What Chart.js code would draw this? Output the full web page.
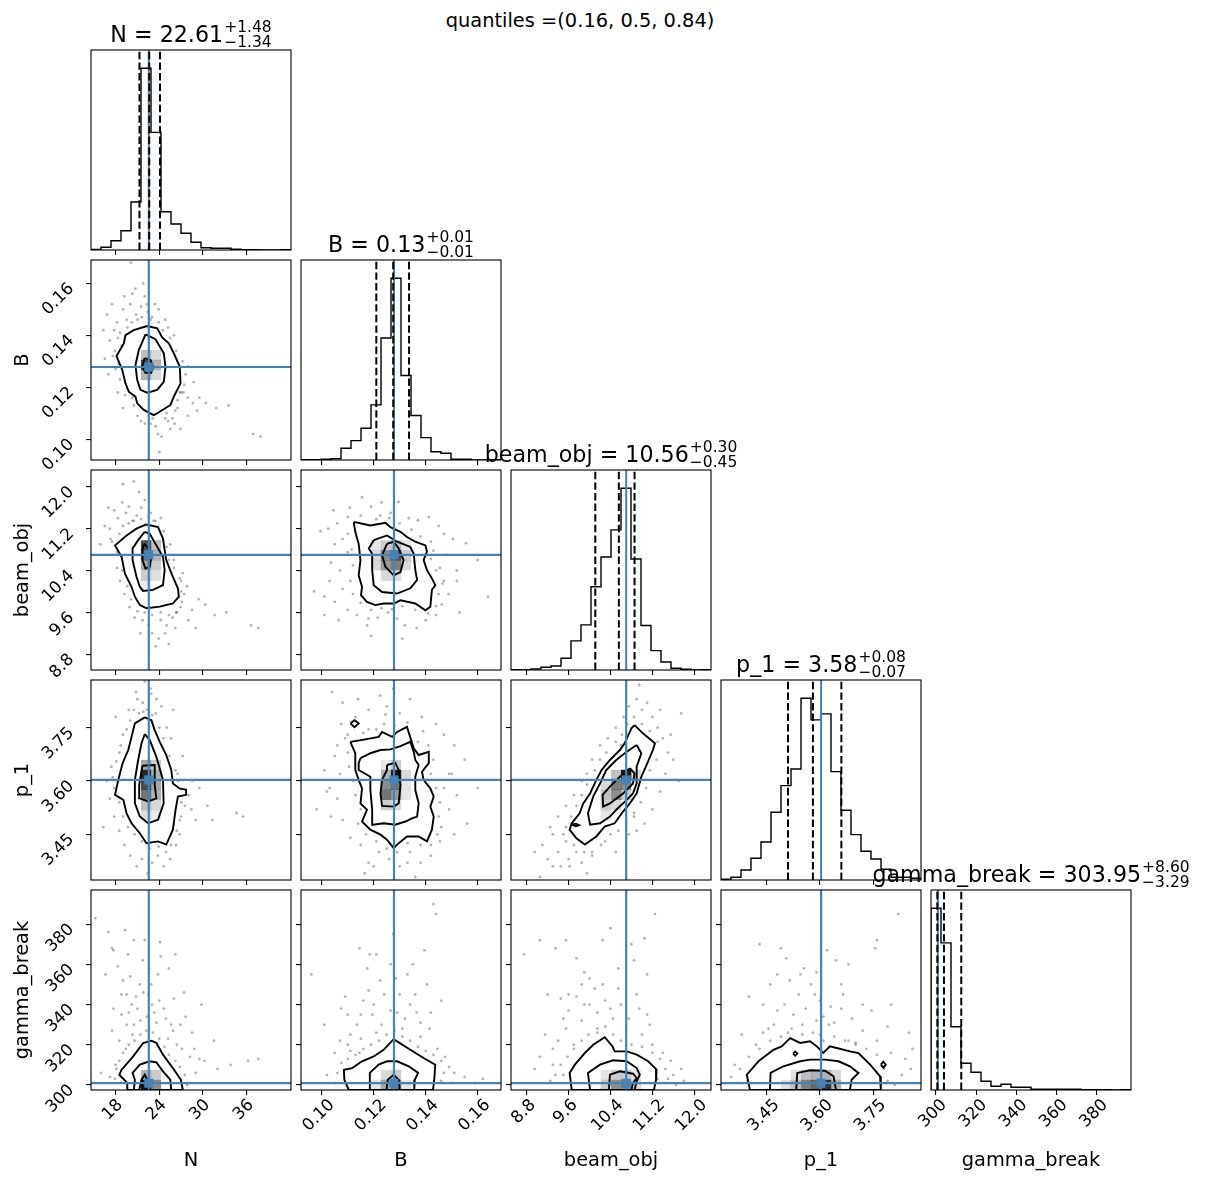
<!DOCTYPE html>
<html>
<head>
<meta charset="utf-8">
<title>corner plot</title>
<script src="https://cdn.jsdelivr.net/npm/chart.js@4.4.1/dist/chart.umd.min.js"></script>
<style>
  html, body { margin: 0; padding: 0; background: #fff; }
  body { position: relative; width: 1207px; height: 1180px; overflow: hidden; }
  canvas { position: absolute; }
  #sup { position: absolute; left: 280px; width: 600px; top: 11px; text-align: center;
         font: 19.4px "DejaVu Sans", sans-serif; line-height: 1; color: #000; }
</style>
</head>
<body>
<div id="sup">quantiles =(0.16, 0.5, 0.84)</div>
<script>
// parameters
var labels = ['N', 'B', 'beam_obj', 'p_1', 'gamma_break'];
var axisMin = [14.61, 0.0920, 8.50, 3.3215, 297.5];
var axisMax = [42.09, 0.1690, 12.32, 3.884, 397.0];

var ticksN = [18, 24, 30, 36];
var ticksB = [0.10, 0.12, 0.14, 0.16];
var ticksBeam = [8.8, 9.6, 10.4, 11.2, 12.0];
var ticksP1 = [3.45, 3.60, 3.75];
var ticksGamma = [300, 320, 340, 360, 380];
var tickSets = [ticksN, ticksB, ticksBeam, ticksP1, ticksGamma];
var tickDecimals = [0, 2, 1, 2, 0];

var truths = [22.55, 0.1278, 10.70, 3.603, 300.9];
var q16 = [21.27, 0.1210, 10.11, 3.51, 300.66];
var q50 = [22.61, 0.1275, 10.56, 3.58, 303.95];
var q84 = [24.09, 0.1336, 10.86, 3.66, 312.55];
var titleValue = ['22.61', '0.13', '10.56', '3.58', '303.95'];
var titleUp = ['1.48', '0.01', '0.30', '0.08', '8.60'];
var titleDown = ['1.34', '0.01', '0.45', '0.07', '3.29'];

// 1D histograms, 20 bins over each axis range
var histN = [0.5, 2.7, 9.3, 19.3, 48, 182, 117.7, 38.3, 26, 16.7, 7.7, 2.3, 1.7, 1.7, 0.7, 0.3, 0.3, 0, 0, 0.3];
var histB = [0.3, 0.3, 0.7, 1.3, 11.7, 19.3, 31.7, 55, 121.7, 181.3, 84.3, 44.3, 22.3, 8.3, 6.7, 0.7, 0.7, 0, 0, 0.3];
var histBeam = [0.3, 0, 1, 2.7, 4, 11.7, 29, 45, 83, 112.7, 139.7, 181.3, 110.7, 44.3, 19.3, 8, 1.7, 0.7, 0, 0.3];
var histP1 = [0.7, 2.7, 10, 21.7, 38, 67.7, 94.3, 111, 181.7, 160, 166, 108.3, 69.7, 45.3, 28.7, 21, 10.7, 2.7, 2.7, 1.7];
var histGamma = [181.3, 146.7, 63, 26.7, 17.7, 8.7, 3.7, 5.7, 2.7, 2.7, 0.7, 0.7, 0.7, 0.7, 0.7, 0.3, 0.3, 0.3, 0, 0.3];
var hists = [histN, histB, histBeam, histP1, histGamma];

// 2D panels: samples outside the contours, contour rings (outer first), density cells [x, y, darkness]
var pts_N_B = [[16.8,0.148],[17.5,0.152],[18.2,0.145],[18.6,0.141],[19.0,0.150],[19.5,0.146],[20.0,0.152],[20.3,0.156],[20.8,0.148],[21.5,0.151],[22.0,0.155],[22.4,0.149],[23.0,0.147],[23.4,0.152],[17.2,0.138],[17.9,0.134],[18.4,0.129],[18.8,0.136],[16.3,0.142],[20.1,0.168],[21.8,0.160],[19.8,0.119],[20.5,0.113],[21.0,0.109],[22.0,0.106],[23.5,0.105],[24.3,0.101],[25.0,0.110],[25.8,0.108],[26.5,0.112],[27.0,0.118],[27.4,0.121],[26.8,0.125],[27.9,0.116],[28.6,0.114],[29.5,0.116],[30.4,0.114],[31.8,0.112],[33.5,0.113],[28.0,0.128],[26.0,0.140],[25.2,0.143],[24.8,0.146],[36.9,0.102],[37.9,0.101],[24.0,0.095],[26.1,0.106],[23.1,0.108],[25.5,0.104],[26.8,0.118],[27.9,0.109],[25.2,0.107],[17.0,0.125],[16.5,0.131],[19.0,0.112],[18.3,0.118],
  [19.6,0.143],[20.2,0.145],[21.0,0.146],[21.6,0.147],[22.8,0.146],[23.9,0.145],[24.5,0.142],[25.5,0.139],[26.3,0.134],[27.2,0.130],[27.6,0.125],[27.3,0.118],[26.5,0.115],[26.2,0.111],[24.8,0.108],[24.2,0.111],[22.8,0.106],[21.5,0.107],[20.3,0.116],[19.3,0.117],[18.6,0.123],[18.0,0.127],[17.6,0.132],[18.3,0.139],[17.8,0.142],[19.2,0.155],[20.7,0.158],[22.3,0.152],[23.9,0.150],[28.7,0.122],[29.2,0.111],[26.9,0.104],[23.8,0.102]];
var cont_N_B = [
  [[22.33,0.1436],[23.71,0.1427],[24.39,0.1392],[25.30,0.1369],[25.99,0.1331],[26.81,0.1279],[26.91,0.1215],[25.99,0.1164],[25.53,0.1132],[23.71,0.1100],[23.24,0.1093],[21.86,0.1113],[20.96,0.1138],[20.72,0.1164],[19.80,0.1183],[19.35,0.1215],[18.90,0.1267],[18.11,0.1320],[19.12,0.1369],[19.35,0.1401],[20.49,0.1420]],
  [[22.10,0.1404],[23.47,0.1385],[24.61,0.1331],[24.85,0.1279],[24.61,0.1221],[23.71,0.1190],[22.33,0.1179],[21.41,0.1190],[20.96,0.1228],[20.72,0.1286],[21.18,0.1343]],
  [[21.96,0.1312],[22.79,0.1305],[23.16,0.1279],[22.88,0.1256],[22.10,0.1256],[21.64,0.1279]]
];
var cells_N_B = [[22.17,0.1324,0.25],[23.54,0.1324,0.15],[22.17,0.1286,0.7],[23.54,0.1286,0.3],[22.17,0.1247,0.3],[23.54,0.1247,0.15]];

var pts_N_beam = [[16.5,11.25],[17.0,11.6],[17.8,11.55],[18.3,11.4],[18.9,11.7],[19.4,11.5],[19.8,11.62],[20.3,11.35],[20.9,11.45],[21.5,11.6],[21.2,11.9],[22.8,11.5],[23.2,11.35],[17.3,11.0],[17.6,10.7],[18.2,10.45],[18.6,10.2],[19.2,9.95],[19.9,9.7],[20.6,9.5],[21.7,9.45],[22.5,9.35],[23.0,9.2],[23.5,8.95],[24.2,9.45],[24.8,9.2],[25.3,9.0],[25.8,9.5],[26.3,9.6],[26.9,9.7],[27.4,9.95],[27.8,10.1],[27.2,10.35],[28.5,9.65],[29.4,9.85],[30.3,9.75],[31.6,9.55],[33.2,9.6],[26.0,10.6],[25.5,10.9],[24.2,11.4],[36.6,9.35],[37.6,9.3],[19.0,12.05],[20.5,12.1],[22.0,11.75],[27.0,10.2],[15.9,10.9],
  [18.5,11.1],[19.0,11.25],[19.8,11.3],[20.5,11.35],[21.5,11.38],[22.5,11.42],[23.5,11.35],[24.6,11.15],[25.0,10.85],[25.3,10.6],[26.0,10.45],[26.8,10.25],[27.0,10.0],[27.1,9.8],[26.4,9.6],[25.3,9.55],[24.2,9.6],[23.0,9.55],[22.0,9.6],[21.0,9.62],[20.1,9.85],[19.6,10.1],[18.9,10.4],[18.2,10.75],[17.5,10.95],[17.2,11.2],[28.0,9.45],[29.0,9.3],[26.2,9.3],[25.0,9.35],[23.9,9.1],[21.4,9.2]];
var cont_N_beam = [
  [[22.23,11.28],[23.82,11.23],[24.50,11.01],[24.73,10.79],[24.95,10.60],[25.86,10.28],[26.55,10.06],[26.68,9.90],[25.86,9.77],[24.05,9.71],[22.23,9.68],[21.32,9.74],[20.64,9.90],[20.18,10.09],[19.27,10.34],[18.82,10.66],[17.91,10.88],[19.50,11.07],[20.86,11.20]],
  [[22.0,11.14],[22.68,11.10],[23.59,10.88],[24.50,10.66],[24.73,10.41],[24.50,10.12],[23.14,10.03],[21.77,10.01],[21.32,10.09],[20.86,10.28],[20.32,10.60],[20.32,10.82],[21.09,10.98]],
  [[21.86,10.91],[22.45,10.84],[22.91,10.66],[22.68,10.47],[22.09,10.44],[21.68,10.60],[21.68,10.79]]
];
var cells_N_beam = [[22.17,10.88,0.7],[22.17,10.69,0.6],[22.17,10.50,0.35],[23.54,10.88,0.25],[23.54,10.69,0.3],[23.54,10.50,0.2],[22.17,10.30,0.2],[23.54,10.30,0.12],[22.17,10.11,0.08]];

var pts_N_p1 = [[20.8,3.85],[21.7,3.82],[22.3,3.80],[22.8,3.86],[23.5,3.79],[24.3,3.81],[25.0,3.75],[25.6,3.72],[24.7,3.68],[19.8,3.80],[19.0,3.73],[18.5,3.68],[17.4,3.64],[16.8,3.6],[17.2,3.55],[17.8,3.50],[18.5,3.46],[19.2,3.42],[20.0,3.39],[20.9,3.36],[21.6,3.38],[22.4,3.34],[23.0,3.37],[23.8,3.39],[24.6,3.36],[25.5,3.38],[26.3,3.42],[26.8,3.45],[27.0,3.50],[27.5,3.53],[28.4,3.52],[29.0,3.49],[30.6,3.53],[31.3,3.49],[26.5,3.62],[27.2,3.67],[28.5,3.60],[25.9,3.80],[22.0,3.88],[16.3,3.47],[35.5,3.50],[34.6,3.51],[18.0,3.78],
  [21.2,3.79],[21.8,3.795],[23.0,3.785],[24.0,3.75],[24.6,3.72],[25.4,3.67],[26.2,3.63],[26.6,3.60],[27.0,3.54],[26.8,3.49],[26.4,3.46],[25.6,3.42],[24.9,3.40],[23.9,3.415],[22.7,3.41],[21.6,3.43],[20.6,3.45],[19.7,3.47],[19.0,3.50],[18.5,3.54],[17.8,3.58],[17.6,3.61],[18.1,3.655],[18.7,3.70],[19.5,3.745],[20.0,3.77],[20.5,3.80],[21.0,3.83],[23.6,3.83],[22.9,3.845],[19.4,3.60],[28.0,3.56],[29.5,3.58]];
var cont_N_p1 = [
  [[22.0,3.779],[22.91,3.771],[23.36,3.743],[24.05,3.710],[24.95,3.673],[25.64,3.631],[25.86,3.593],[26.77,3.579],[27.68,3.575],[27.68,3.561],[26.55,3.556],[26.23,3.519],[25.86,3.463],[24.95,3.421],[23.82,3.430],[22.23,3.425],[21.32,3.453],[20.18,3.481],[19.50,3.509],[19.05,3.547],[17.91,3.561],[18.36,3.603],[18.95,3.650],[19.73,3.687],[20.18,3.724],[20.64,3.762]],
  [[22.0,3.732],[22.68,3.715],[23.59,3.668],[24.50,3.603],[24.59,3.537],[23.82,3.491],[22.45,3.481],[21.32,3.500],[20.64,3.537],[20.64,3.603],[21.09,3.659],[21.55,3.706]],
  [[21.68,3.643],[23.36,3.645],[23.36,3.589],[23.59,3.551],[22.45,3.542],[21.32,3.551],[21.23,3.589]]
];
var cells_N_p1 = [[22.17,3.645,0.35],[22.17,3.617,0.85],[22.17,3.589,0.7],[22.17,3.561,0.55],[22.17,3.532,0.25],[22.17,3.504,0.12],[23.54,3.645,0.2],[23.54,3.617,0.3],[23.54,3.589,0.35],[23.54,3.561,0.3],[23.54,3.532,0.15],[23.54,3.504,0.08]];

var pts_N_gamma = [[15.2,383],[17.0,376],[17.5,368],[17.7,367],[16.6,355],[19.3,377],[20.5,372],[22.0,372],[24.1,371],[24.2,364],[26.2,365],[18.3,359],[19.0,352],[20.0,354],[21.3,350],[22.6,358],[23.8,355],[25.3,358],[19.5,345],[20.8,344],[21.8,346],[23.0,340],[24.0,342],[26.0,343],[27.4,346],[17.7,338],[18.8,335],[19.8,336],[20.5,330],[21.4,332],[22.3,334],[23.6,331],[24.9,333],[25.6,330],[27.6,334],[28.5,326],[17.5,327],[18.5,322],[19.4,318],[20.3,325],[25.2,323],[26.4,320],[27.1,318],[29.8,340],[31.5,322],[30.2,312],[32.0,308],[33.8,310],[37.6,313],[36.2,312],[28.2,314],[18.1,308],[17.2,304],[27.9,301],[29.0,306],[16.0,306],
  [18.5,312],[19.0,316],[19.8,320],[20.6,322],[21.4,325],[22.2,327],[23.1,326],[24.0,323],[24.7,319],[25.3,315],[26.2,312],[26.8,309],[27.5,305],[27.8,300],[17.9,303],[18.0,310],[19.5,330],[21.0,338],[22.5,345],[23.3,336],[20.2,340],[22.9,350],[21.7,362],[19.7,365],[18.8,345],[24.6,338],[25.9,327],[26.9,330],[28.8,318],[29.5,313]];
var cont_N_gamma = [
  [[19.59,297.5],[19.59,301.0],[18.5,305.1],[18.82,307.6],[20.41,314.2],[21.77,320.9],[22.91,322.0],[23.59,320.9],[24.50,315.1],[25.86,308.4],[26.95,302.6],[27.23,297.5]],
  [[20.5,297.5],[20.64,302.6],[20.32,306.0],[21.32,310.1],[22.68,311.8],[23.59,311.3],[24.50,306.8],[25.5,302.6],[25.64,297.5]],
  [[21.23,297.5],[21.55,302.6],[22.0,305.1],[22.45,301.8],[22.59,297.5]]
];
var cells_N_gamma = [[22.17,300.0,0.95],[23.54,300.0,0.45],[22.17,305.0,0.3],[23.54,305.0,0.2]];

var pts_B_beam = [[0.1045,11.55],[0.1108,11.60],[0.1155,11.80],[0.1190,11.62],[0.1225,11.45],[0.1265,11.50],[0.1295,11.71],[0.1335,11.40],[0.1370,11.36],[0.1412,11.42],[0.1450,11.25],[0.1470,11.10],[0.1505,11.00],[0.1555,10.92],[0.1480,10.70],[0.1455,10.45],[0.1470,10.20],[0.1488,9.95],[0.1462,9.75],[0.1440,9.55],[0.1400,9.45],[0.1365,9.30],[0.1320,9.35],[0.1290,9.48],[0.1255,9.60],[0.1215,9.50],[0.1175,9.35],[0.1135,9.55],[0.1100,9.65],[0.1065,9.45],[0.1050,9.80],[0.1080,10.05],[0.1070,10.40],[0.1035,10.55],[0.1100,10.75],[0.1080,11.00],[0.1025,11.20],[0.0970,10.00],[0.1640,9.90],[0.1010,9.55],[0.1190,9.15],[0.1310,9.10],[0.1530,9.60],[0.0995,11.15],[0.1145,11.30],[0.1600,10.60],
  [0.1100,11.42],[0.1150,11.45],[0.1210,11.38],[0.1260,11.40],[0.1300,11.30],[0.1345,11.18],[0.1380,11.05],[0.1420,10.95],[0.1430,10.78],[0.1420,10.62],[0.1440,10.40],[0.1465,10.15],[0.1450,9.95],[0.1440,9.72],[0.1410,9.58],[0.1360,9.65],[0.1310,9.72],[0.1270,9.66],[0.1230,9.68],[0.1190,9.65],[0.1150,9.78],[0.1120,9.95],[0.1110,10.20],[0.1120,10.50],[0.1115,10.80],[0.1100,11.10],[0.1060,11.30],[0.1050,10.90],[0.1030,10.20],[0.1010,9.90],[0.1520,10.40],[0.1520,10.20],[0.1230,11.70],[0.1180,9.48]];
var cont_B_beam = [
  [[0.1123,11.33],[0.1187,11.26],[0.1245,11.31],[0.1264,11.23],[0.1303,11.14],[0.1328,11.04],[0.1360,10.95],[0.1399,10.88],[0.1405,10.76],[0.1392,10.60],[0.1405,10.41],[0.1424,10.25],[0.1437,10.12],[0.1424,10.03],[0.1418,9.71],[0.1399,9.64],[0.1360,9.77],[0.1303,9.83],[0.1277,9.77],[0.1238,9.77],[0.1206,9.74],[0.1174,9.80],[0.1151,9.93],[0.1155,10.09],[0.1142,10.31],[0.1149,10.60],[0.1142,10.91],[0.1129,11.14]],
  [[0.1200,10.98],[0.1251,11.07],[0.1290,10.95],[0.1341,10.85],[0.1354,10.72],[0.1360,10.41],[0.1367,10.22],[0.1341,10.06],[0.1290,9.96],[0.1232,9.99],[0.1200,10.12],[0.1194,10.41],[0.1194,10.72],[0.1181,10.82]],
  [[0.1251,10.91],[0.1277,10.95],[0.1296,10.82],[0.1315,10.60],[0.1303,10.37],[0.1277,10.31],[0.1245,10.47],[0.1232,10.69]]
];
var cells_B_beam = [[0.1247,10.69,0.45],[0.1286,10.69,0.7],[0.1247,10.50,0.4],[0.1286,10.50,0.5],[0.1209,10.88,0.1],[0.1247,10.88,0.2],[0.1286,10.88,0.25],[0.1324,10.88,0.1],[0.1209,10.69,0.15],[0.1324,10.69,0.2],[0.1209,10.50,0.15],[0.1324,10.50,0.15],[0.1247,10.30,0.15],[0.1286,10.30,0.15]];

var pts_B_p1 = [[0.1040,3.85],[0.1080,3.82],[0.1140,3.83],[0.1180,3.80],[0.1225,3.84],[0.1250,3.81],[0.1275,3.86],[0.1300,3.79],[0.1340,3.83],[0.1385,3.78],[0.1440,3.76],[0.1470,3.73],[0.1510,3.70],[0.1550,3.66],[0.1500,3.62],[0.1470,3.58],[0.1600,3.58],[0.1490,3.52],[0.1460,3.47],[0.1455,3.43],[0.1420,3.39],[0.1380,3.37],[0.1340,3.40],[0.1300,3.36],[0.1260,3.38],[0.1220,3.40],[0.1180,3.37],[0.1150,3.42],[0.1110,3.44],[0.1080,3.49],[0.1060,3.55],[0.1030,3.58],[0.1070,3.62],[0.1050,3.67],[0.1090,3.72],[0.1010,3.63],[0.0980,3.52],[0.1130,3.78],[0.1180,3.745],[0.1240,3.76],[0.1390,3.74],[0.1165,3.34],[0.1360,3.33],[0.1560,3.48],[0.1075,3.76],[0.1245,3.787],
  [0.1100,3.73],[0.1160,3.735],[0.1210,3.745],[0.1280,3.755],[0.1330,3.765],[0.1370,3.71],[0.1410,3.70],[0.1430,3.66],[0.1420,3.62],[0.1440,3.58],[0.1455,3.54],[0.1450,3.50],[0.1445,3.45],[0.1420,3.42],[0.1380,3.42],[0.1330,3.425],[0.1290,3.40],[0.1250,3.41],[0.1210,3.43],[0.1170,3.45],[0.1140,3.48],[0.1150,3.52],[0.1130,3.56],[0.1120,3.60],[0.1105,3.64],[0.1100,3.68],[0.1060,3.70],[0.1020,3.57],[0.1035,3.50],[0.1490,3.62],[0.1520,3.56],[0.1510,3.45],[0.1200,3.36],[0.1330,3.37]];
var cont_B_p1 = [
  [[0.1110,3.710],[0.1168,3.717],[0.1219,3.724],[0.1232,3.738],[0.1271,3.724],[0.1290,3.738],[0.1328,3.752],[0.1354,3.692],[0.1373,3.673],[0.1412,3.682],[0.1412,3.650],[0.1386,3.626],[0.1392,3.603],[0.1418,3.579],[0.1431,3.556],[0.1418,3.528],[0.1431,3.500],[0.1424,3.463],[0.1405,3.430],[0.1373,3.444],[0.1328,3.444],[0.1290,3.421],[0.1277,3.411],[0.1251,3.435],[0.1226,3.449],[0.1187,3.463],[0.1155,3.486],[0.1174,3.519],[0.1149,3.537],[0.1155,3.579],[0.1142,3.603],[0.1129,3.631],[0.1129,3.678]],
  [[0.1149,3.664],[0.1187,3.678],[0.1226,3.687],[0.1264,3.689],[0.1303,3.698],[0.1341,3.710],[0.1354,3.682],[0.1360,3.659],[0.1373,3.645],[0.1360,3.612],[0.1360,3.575],[0.1373,3.537],[0.1367,3.500],[0.1347,3.495],[0.1322,3.486],[0.1283,3.477],[0.1238,3.481],[0.1197,3.477],[0.1194,3.519],[0.1187,3.575],[0.1187,3.612],[0.1142,3.631],[0.1142,3.650]],
  [[0.1251,3.645],[0.1283,3.651],[0.1296,3.631],[0.1303,3.589],[0.1296,3.537],[0.1277,3.528],[0.1232,3.530],[0.1226,3.565],[0.1232,3.603],[0.1251,3.631]],
  [[0.1110,3.762],[0.1126,3.771],[0.1142,3.762],[0.1126,3.751]]
];
var cells_B_p1 = [[0.1247,3.645,0.1],[0.1286,3.645,0.2],[0.1247,3.617,0.3],[0.1286,3.617,0.9],[0.1324,3.617,0.15],[0.1247,3.589,0.45],[0.1286,3.589,0.55],[0.1324,3.589,0.1],[0.1247,3.561,0.55],[0.1286,3.561,0.4],[0.1324,3.561,0.1],[0.1247,3.532,0.2],[0.1286,3.532,0.15]];

var pts_B_gamma = [[0.0960,355],[0.1010,330],[0.1050,316],[0.1075,338],[0.1090,344],[0.1110,325],[0.1100,320],[0.1135,330],[0.1150,323],[0.1160,342],[0.1180,347],[0.1195,335],[0.1210,365],[0.1225,352],[0.1230,330],[0.1250,318],[0.1265,337],[0.1275,375],[0.1285,353],[0.1300,345],[0.1310,328],[0.1320,333],[0.1340,340],[0.1350,360],[0.1365,336],[0.1380,324],[0.1395,367],[0.1405,350],[0.1415,328],[0.1430,390],[0.1445,318],[0.1460,342],[0.1475,314],[0.1490,309],[0.1510,306],[0.1550,304],[0.1620,303],[0.1145,368],[0.1185,365],[0.1070,322],[0.1210,326],[0.1440,385],[0.1330,316],[0.1175,358],[0.1265,360],[0.1110,317],[0.1145,316],[0.1590,301],
  [0.1060,306],[0.1075,311],[0.1100,313],[0.1130,315],[0.1160,318],[0.1190,320],[0.1220,322],[0.1250,325],[0.1280,327],[0.1310,324],[0.1340,322],[0.1370,319],[0.1400,317],[0.1430,315],[0.1460,312],[0.1470,306],[0.1460,302],[0.1500,301],[0.1050,301],[0.1020,305],[0.1150,335],[0.1240,345],[0.1290,336],[0.1360,345],[0.1420,336],[0.1200,340],[0.1330,355],[0.1100,335],[0.1380,331]];
var cont_B_gamma = [
  [[0.1104,297.5],[0.1087,302.6],[0.1085,307.6],[0.1117,308.4],[0.1155,311.8],[0.1200,314.2],[0.1238,317.5],[0.1277,322.8],[0.1290,321.7],[0.1341,317.5],[0.1392,313.4],[0.1437,310.1],[0.1433,302.6],[0.1428,297.5]],
  [[0.1185,297.5],[0.1185,306.0],[0.1219,310.1],[0.1251,311.8],[0.1290,311.8],[0.1335,309.3],[0.1371,306.0],[0.1358,302.6],[0.1356,297.5]],
  [[0.1249,297.5],[0.1254,302.6],[0.1277,305.1],[0.1296,302.6],[0.1300,297.5]]
];
var cells_B_gamma = [[0.1247,300.0,0.35],[0.1286,300.0,0.5],[0.1247,305.0,0.15],[0.1286,305.0,0.2],[0.1209,300.0,0.1],[0.1324,300.0,0.1]];

var pts_beam_p1 = [[8.95,3.40],[9.10,3.42],[9.20,3.38],[9.30,3.45],[9.40,3.40],[9.45,3.36],[9.55,3.43],[9.60,3.38],[9.70,3.47],[9.75,3.40],[9.85,3.37],[9.95,3.34],[10.05,3.40],[9.40,3.50],[9.55,3.53],[9.70,3.56],[9.85,3.60],[9.95,3.62],[10.05,3.66],[10.20,3.70],[10.35,3.72],[10.50,3.75],[10.65,3.78],[10.75,3.81],[10.90,3.83],[11.00,3.80],[11.10,3.82],[11.20,3.78],[11.30,3.75],[11.40,3.72],[11.50,3.68],[11.55,3.73],[11.45,3.62],[11.35,3.57],[11.20,3.52],[11.05,3.48],[10.90,3.46],[10.75,3.45],[10.50,3.40],[10.30,3.43],[11.70,3.60],[11.75,3.79],[9.05,3.33],[10.95,3.87],[11.15,3.69],[10.60,3.70],[9.25,3.47],[10.85,3.50],
  [9.55,3.47],[9.65,3.50],[9.75,3.53],[9.85,3.56],[9.95,3.59],[10.10,3.63],[10.20,3.66],[10.32,3.68],[10.50,3.71],[10.62,3.73],[10.72,3.76],[10.85,3.78],[11.00,3.76],[11.15,3.74],[11.30,3.71],[11.28,3.66],[11.15,3.63],[11.08,3.58],[10.98,3.54],[10.85,3.51],[10.70,3.48],[10.55,3.46],[10.40,3.45],[10.22,3.42],[10.05,3.39],[9.90,3.40],[9.70,3.42],[9.50,3.45],[9.62,3.36],[9.30,3.36],[11.60,3.66],[11.35,3.80],[10.95,3.72]];
var cont_beam_p1 = [
  [[10.86,3.757],[11.02,3.734],[11.25,3.706],[11.21,3.687],[11.09,3.645],[10.99,3.612],[10.90,3.565],[10.77,3.537],[10.64,3.514],[10.48,3.481],[10.29,3.472],[10.13,3.444],[9.91,3.421],[9.75,3.439],[9.62,3.463],[9.66,3.481],[9.81,3.509],[9.88,3.537],[10.01,3.565],[10.13,3.603],[10.23,3.631],[10.39,3.659],[10.58,3.687],[10.67,3.706],[10.80,3.748]],
  [[10.90,3.701],[10.99,3.678],[10.90,3.640],[10.90,3.593],[10.83,3.565],[10.71,3.547],[10.51,3.519],[10.39,3.500],[10.20,3.481],[10.01,3.477],[9.97,3.509],[10.07,3.556],[10.20,3.593],[10.32,3.631],[10.51,3.659],[10.71,3.682]],
  [[10.77,3.636],[10.86,3.621],[10.83,3.593],[10.64,3.565],[10.39,3.537],[10.26,3.528],[10.25,3.561],[10.39,3.584],[10.58,3.612]],
  [[9.66,3.477],[9.74,3.480],[9.80,3.476],[9.74,3.473]]
];
var cells_beam_p1 = [[10.70,3.617,0.9],[10.51,3.617,0.25],[10.89,3.617,0.15],[10.51,3.589,0.5],[10.70,3.589,0.45],[10.31,3.589,0.15],[10.51,3.561,0.45],[10.31,3.561,0.25],[10.70,3.561,0.2],[10.31,3.532,0.2],[10.51,3.532,0.15],[10.31,3.504,0.1]];

var pts_beam_gamma = [[8.75,365],[9.05,372],[9.35,368],[9.55,372],[9.75,363],[9.90,356],[10.00,353],[10.25,372],[10.40,378],[10.55,358],[10.80,370],[10.85,362],[11.05,373],[11.10,355],[11.25,385],[9.20,345],[9.45,343],[9.60,337],[9.75,344],[9.85,332],[10.00,340],[10.15,336],[10.30,342],[10.45,333],[10.60,340],[10.75,333],[10.95,338],[11.15,330],[9.15,325],[9.30,318],[9.40,322],[9.55,328],[9.70,320],[10.15,326],[11.00,325],[11.20,320],[11.40,316],[11.55,312],[11.75,308],[11.60,305],[9.05,314],[8.95,308],[9.35,305],[10.55,348],[10.10,348],[9.85,350],[11.30,303],[11.45,301],
  [9.50,305],[9.45,310],[9.58,314],[9.70,318],[9.85,322],[9.98,325],[10.15,328],[10.30,329],[10.45,325],[10.60,322],[10.80,320],[11.00,319],[11.20,316],[11.35,313],[11.45,308],[11.50,303],[9.30,310],[9.25,302],[9.60,345],[9.90,340],[10.40,338],[10.70,328],[10.90,345],[11.10,335],[10.25,350],[9.50,333],[11.65,300],[11.80,302]];
var cont_beam_gamma = [
  [[9.66,297.5],[9.62,306.0],[9.72,310.1],[9.91,315.9],[10.07,320.0],[10.29,323.8],[10.44,319.2],[10.48,316.7],[10.71,316.7],[10.90,315.1],[11.12,311.8],[11.28,307.6],[11.27,302.6],[11.23,297.5]],
  [[10.01,297.5],[9.97,306.0],[10.20,310.1],[10.45,312.3],[10.71,311.8],[10.90,308.4],[10.96,305.1],[10.90,301.8],[10.86,297.5]],
  [[10.37,297.5],[10.39,305.1],[10.58,306.8],[10.83,305.6],[10.90,303.5],[10.83,301.0],[10.80,297.5]]
];
var cells_beam_gamma = [[10.51,300.0,0.45],[10.70,300.0,0.45],[10.31,300.0,0.2],[10.89,300.0,0.15],[10.51,305.0,0.2],[10.70,305.0,0.2],[10.31,305.0,0.1],[10.89,305.0,0.1]];

var pts_p1_gamma = [[3.430,370],[3.490,368],[3.505,363],[3.555,358],[3.620,367],[3.645,362],[3.760,372],[3.755,368],[3.820,385],[3.460,350],[3.515,352],[3.545,355],[3.575,350],[3.585,345],[3.600,342],[3.630,339],[3.660,350],[3.665,345],[3.400,344],[3.440,340],[3.480,337],[3.525,335],[3.560,338],[3.610,334],[3.640,331],[3.690,333],[3.720,327],[3.745,337],[3.790,329],[3.380,325],[3.420,320],[3.455,328],[3.510,326],[3.550,330],[3.600,325],[3.680,322],[3.760,322],[3.800,316],[3.840,313],[3.860,318],[3.360,310],[3.350,304],[3.395,302],[3.830,305],[3.855,308],[3.700,320],[3.625,330],[3.470,330],
  [3.370,301],[3.375,308],[3.400,314],[3.430,318],[3.460,322],[3.490,324],[3.520,328],[3.550,325],[3.580,326],[3.610,322],[3.640,324],[3.670,322],[3.700,321],[3.730,318],[3.760,315],[3.780,308],[3.790,302],[3.810,300],[3.440,326],[3.500,340],[3.540,345],[3.590,332],[3.660,338],[3.720,340],[3.590,356],[3.680,360],[3.480,355],[3.800,340],[3.850,326]];
var cont_p1_gamma = [
  [[3.403,297.5],[3.394,305.1],[3.427,311.8],[3.469,317.5],[3.492,319.2],[3.516,323.3],[3.544,320.9],[3.572,321.7],[3.591,319.2],[3.609,315.9],[3.628,319.2],[3.647,318.4],[3.684,316.7],[3.708,315.9],[3.741,310.1],[3.769,304.3],[3.771,297.5]],
  [[3.459,297.5],[3.461,306.0],[3.497,309.3],[3.544,311.8],[3.572,312.6],[3.614,312.6],[3.652,311.8],[3.684,309.3],[3.708,306.0],[3.689,302.6],[3.684,297.5]],
  [[3.533,297.5],[3.536,306.0],[3.572,307.3],[3.614,307.1],[3.638,304.3],[3.645,297.5]],
  [[3.524,315.6],[3.530,316.6],[3.536,315.6],[3.530,314.6]],
  [[3.771,310.1],[3.778,311.6],[3.785,310.1],[3.778,308.6]]
];
var cells_p1_gamma = [[3.589,300.0,0.6],[3.617,300.0,0.8],[3.561,300.0,0.5],[3.645,300.0,0.3],[3.532,300.0,0.25],[3.504,300.0,0.12],[3.561,305.0,0.25],[3.589,305.0,0.3],[3.617,305.0,0.3],[3.645,305.0,0.15],[3.532,305.0,0.12]];

var panels2d = {
  '1,0': { pts: pts_N_B, cont: cont_N_B, cells: cells_N_B },
  '2,0': { pts: pts_N_beam, cont: cont_N_beam, cells: cells_N_beam },
  '3,0': { pts: pts_N_p1, cont: cont_N_p1, cells: cells_N_p1 },
  '4,0': { pts: pts_N_gamma, cont: cont_N_gamma, cells: cells_N_gamma },
  '2,1': { pts: pts_B_beam, cont: cont_B_beam, cells: cells_B_beam },
  '3,1': { pts: pts_B_p1, cont: cont_B_p1, cells: cells_B_p1 },
  '4,1': { pts: pts_B_gamma, cont: cont_B_gamma, cells: cells_B_gamma },
  '3,2': { pts: pts_beam_p1, cont: cont_beam_p1, cells: cells_beam_p1 },
  '4,2': { pts: pts_beam_gamma, cont: cont_beam_gamma, cells: cells_beam_gamma },
  '4,3': { pts: pts_p1_gamma, cont: cont_p1_gamma, cells: cells_p1_gamma }
};

var BLUE = '#4682b4';
var FONT = '"DejaVu Sans", sans-serif';
var PANEL = 200, GAP = 10, LEFT0 = 91, TOP0 = 50;

function xy(arr) { return arr.map(function (p) { return { x: p[0], y: p[1] }; }); }
function closed(arr) { return xy(arr.concat([arr[0]])); }

function axisOpts(k, size, dir) {
  return {
    type: 'linear', min: axisMin[k], max: axisMax[k], bounds: 'data',
    grid: { display: true, drawOnChartArea: false, drawTicks: true, tickLength: 5, color: '#000', lineWidth: 1.1 },
    border: { display: false },
    ticks: { display: false },
    afterBuildTicks: function (s) { s.ticks = tickSets[k].map(function (v) { return { value: v }; }); },
    afterFit: function (s) {
      if (dir === 'x') s.height = size; else s.width = size;
      s.paddingLeft = s.paddingRight = s.paddingTop = s.paddingBottom = 0;
    }
  };
}

function cellRadius(chart) {
  var s = chart.scales.x;
  var side = Math.abs(s.getPixelForValue(s.min + (s.max - s.min) / 20) - s.getPixelForValue(s.min));
  return side / Math.SQRT2 + 0.2;
}

function vline(x, y0, y1, color, width, dash, order) {
  return { data: [{ x: x, y: y0 }, { x: x, y: y1 }], showLine: true, borderColor: color, borderWidth: width,
           borderDash: dash || [], pointRadius: 0, fill: false, clip: 0, order: order };
}
function hline(y, x0, x1, color, width, order) {
  return { data: [{ x: x0, y: y }, { x: x1, y: y }], showLine: true, borderColor: color, borderWidth: width,
           pointRadius: 0, fill: false, clip: 0, order: order };
}

// rotated tick labels placed like matplotlib's
function drawXLabels(ctx, scale, k, a) {
  ctx.font = '16.7px ' + FONT;
  ctx.textAlign = 'right'; ctx.textBaseline = 'middle';
  tickSets[k].forEach(function (v) {
    var s = v.toFixed(tickDecimals[k]);
    var w = ctx.measureText(s).width;
    var px = scale.getPixelForValue(v);
    ctx.save();
    ctx.translate(px + 0.354 * w - 3, a.bottom + 12.5);
    ctx.rotate(-Math.PI / 4);
    ctx.fillText(s, 0, 0);
    ctx.restore();
  });
  ctx.font = '19.4px ' + FONT;
  ctx.textAlign = 'center'; ctx.textBaseline = 'alphabetic';
  ctx.fillText(labels[k], (a.left + a.right) / 2, a.bottom + 76);
}

function drawYLabels(ctx, scale, k, a) {
  ctx.font = '16.7px ' + FONT;
  ctx.textAlign = 'right'; ctx.textBaseline = 'middle';
  tickSets[k].forEach(function (v) {
    var s = v.toFixed(tickDecimals[k]);
    var py = scale.getPixelForValue(v);
    ctx.save();
    ctx.translate(a.left - 19.5, py + 2.7);
    ctx.rotate(-Math.PI / 4);
    ctx.fillText(s, 0, 0);
    ctx.restore();
  });
  ctx.save();
  ctx.font = '19.4px ' + FONT;
  ctx.textAlign = 'center'; ctx.textBaseline = 'alphabetic';
  ctx.translate(27.5, (a.top + a.bottom) / 2);
  ctx.rotate(-Math.PI / 2);
  ctx.fillText(labels[k], 0, 0);
  ctx.restore();
}

function drawTitle(ctx, a, k) {
  var main = labels[k] + ' = ' + titleValue[k];
  var up = '+' + titleUp[k], dn = '\u2212' + titleDown[k];
  ctx.font = '22.2px ' + FONT;
  var wm = ctx.measureText(main).width;
  ctx.font = '15.5px ' + FONT;
  var ws = Math.max(ctx.measureText(up).width, ctx.measureText(dn).width);
  var x0 = (a.left + a.right) / 2 - (wm + 1 + ws) / 2;
  var base = a.top - 8.3;
  ctx.textAlign = 'left'; ctx.textBaseline = 'alphabetic';
  ctx.font = '22.2px ' + FONT;
  ctx.fillText(main, x0, base);
  ctx.font = '15.5px ' + FONT;
  ctx.fillText(up, x0 + wm + 1, base - 10);
  ctx.fillText(dn, x0 + wm + 1, base + 5);
}

function decor(r, c) {
  return {
    id: 'decor',
    afterDraw: function (chart) {
      var ctx = chart.ctx, a = chart.chartArea;
      ctx.save();
      ctx.strokeStyle = '#000'; ctx.lineWidth = 1.1;
      ctx.strokeRect(a.left, a.top, a.right - a.left, a.bottom - a.top);
      ctx.fillStyle = '#000';
      if (r === 4) drawXLabels(ctx, chart.scales.x, c, a);
      if (c === 0 && r !== 0) drawYLabels(ctx, chart.scales.y, r, a);
      if (r === c) drawTitle(ctx, a, r);
      ctx.restore();
    }
  };
}

function diagDatasets(k) {
  var counts = hists[k];
  var w = (axisMax[k] - axisMin[k]) / counts.length;
  var top = 1.1 * Math.max.apply(null, counts);
  var step = [{ x: axisMin[k], y: 0 }];
  counts.forEach(function (v, i) { step.push({ x: axisMin[k] + i * w, y: v }); });
  step.push({ x: axisMax[k], y: 0 });
  return {
    top: top,
    sets: [
      { data: step, showLine: true, stepped: true, borderColor: '#000', borderWidth: 1.4, pointRadius: 0, fill: false, clip: 0, order: 50 },
      vline(truths[k], 0, top, BLUE, 2, null, 40),
      vline(q16[k], 0, top, '#000', 2, [7.4, 3.2], 30),
      vline(q50[k], 0, top, '#000', 2, [7.4, 3.2], 30),
      vline(q84[k], 0, top, '#000', 2, [7.4, 3.2], 30)
    ]
  };
}

function pairDatasets(r, c) {
  var p = panels2d[r + ',' + c];
  var sets = [];
  sets.push({ data: xy(p.pts), pointRadius: 1.4, backgroundColor: 'rgba(0,0,0,0.3)', borderWidth: 0, clip: 0, order: 100 });
  sets.push({ data: closed(p.cont[0]), showLine: true, fill: 'shape', backgroundColor: '#ffffff', borderWidth: 0, pointRadius: 0, clip: 0, order: 99 });
  sets.push({
    data: p.cells.map(function (q) { return { x: q[0], y: q[1], v: q[2] }; }),
    pointStyle: 'rect', borderWidth: 0, clip: 0, order: 98,
    pointRadius: function (ctx) { return cellRadius(ctx.chart); },
    backgroundColor: function (ctx) { return 'rgba(0,0,0,' + (ctx.raw ? ctx.raw.v : 0) + ')'; }
  });
  p.cont.forEach(function (ring) {
    sets.push({ data: closed(ring), showLine: true, borderColor: '#000', borderWidth: 1.9, pointRadius: 0, fill: false, clip: 0, order: 60 });
  });
  sets.push(vline(truths[c], axisMin[r], axisMax[r], BLUE, 2.2, null, 20));
  sets.push(hline(truths[r], axisMin[c], axisMax[c], BLUE, 2.2, 20));
  sets.push({ data: [{ x: truths[c], y: truths[r] }], pointStyle: 'rect', pointRadius: 6.4, backgroundColor: BLUE, borderWidth: 0, clip: 0, order: 1 });
  return sets;
}

function makePanel(r, c) {
  var diag = r === c;
  var ml = c === 0 ? 91 : (diag ? 75 : (r === 4 ? 40 : 12));
  var mr = diag ? 75 : 2;
  var mt = diag ? 50 : 2;
  var mb = r === 4 ? 90 : 30;
  var L = LEFT0 + c * (PANEL + GAP), T = TOP0 + r * (PANEL + GAP);
  var cv = document.createElement('canvas');
  cv.width = ml + PANEL + mr; cv.height = mt + PANEL + mb;
  cv.style.left = (L - ml) + 'px'; cv.style.top = (T - mt) + 'px';
  document.body.appendChild(cv);

  var datasets, yScale;
  if (diag) {
    var d = diagDatasets(r);
    datasets = d.sets;
    yScale = { display: false, min: 0, max: d.top };
  } else {
    datasets = pairDatasets(r, c);
    yScale = axisOpts(r, ml, 'y');
  }

  new Chart(cv, {
    type: 'scatter',
    data: { datasets: datasets },
    options: {
      responsive: false, animation: false, events: [],
      layout: { autoPadding: false, padding: { left: diag ? ml : 0, right: mr, top: mt, bottom: 0 } },
      plugins: { legend: { display: false }, tooltip: { enabled: false } },
      scales: { x: axisOpts(c, mb, 'x'), y: yScale }
    },
    plugins: [decor(r, c)]
  });
}

for (var r = 0; r < 5; r++) {
  for (var c = 0; c <= r; c++) makePanel(r, c);
}
</script>
</body>
</html>
